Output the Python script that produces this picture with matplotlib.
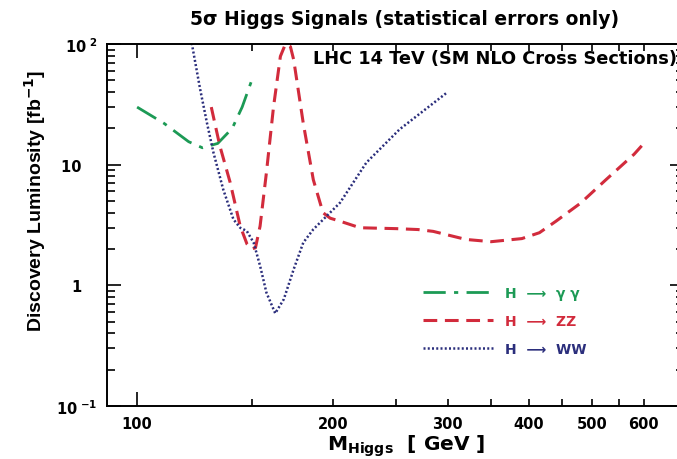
import matplotlib
matplotlib.use("Agg")
import matplotlib.pyplot as plt
import numpy as np

plt.rcParams['font.family'] = ['DejaVu Sans']
plt.rcParams['font.weight'] = 'bold'
plt.rcParams['mathtext.fontset'] = 'dejavusans'

# H -> gamma gamma
m_gg = [100, 110, 120, 126, 133, 140, 145, 150]
l_gg = [30, 22, 15.5, 13.8, 15, 20, 30, 50]

# H -> ZZ
m_zz = [130, 134, 139, 144, 147.5, 150, 152, 154.5, 158, 162, 166, 169, 172, 174, 180,
        186.5, 193, 198, 205, 220, 250, 270, 285, 320, 350, 390, 415, 440, 480, 525, 580, 605]
l_zz = [30, 14.3, 7.1, 3.1, 2.2, 2.0, 2.05, 3.1, 8.6, 30, 79, 100, 95, 74, 22,
        7.5, 4.0, 3.6, 3.4, 3.0, 2.95, 2.9, 2.8, 2.4, 2.3, 2.44, 2.73, 3.4, 4.8, 7.5, 12.2, 15.7]

# H -> WW
m_ww = [121, 125, 128, 131, 135.6, 140.6, 144, 147.4, 151, 154.5, 158, 163, 168, 174, 180,
        186.5, 195.5, 205, 225, 253, 300]
l_ww = [110, 42, 22.3, 12.6, 6.24, 3.52, 3.0, 2.82, 2.26, 1.45, 0.87, 0.586, 0.766, 1.36, 2.26,
        2.91, 3.75, 4.84, 10.4, 19.6, 40]

x_ticks = [100, 200, 300, 400, 500, 600]
x_minor = [150, 250, 350, 450, 550]
y_ticks = [0.1, 1, 10, 100]
# trailing spaces keep "1" and "10" lined up with the "10" of the powers
y_labels = [r'$\mathbf{10}^{\ \mathbf{-1}}$', '1   ', '10   ', r'$\mathbf{10}^{\ \mathbf{2}}$']

green = '#1c9a55'
red = '#d22b3c'
blue = '#2b2e7c'

fig = plt.figure(figsize=(6.77, 4.6), dpi=100)
ax = fig.add_axes([107 / 677, 53 / 460, 577 / 677, 362 / 460])

l1, = ax.plot(m_gg, l_gg, color=green, lw=2, dashes=(8, 3, 1.5, 3))
l2, = ax.plot(m_zz, l_zz, color=red, lw=2.2, dashes=(4.5, 2.5))
l3, = ax.plot(m_ww, l_ww, color=blue, lw=1.8, dashes=(0.8, 0.9))

ax.set_xscale('log')
ax.set_yscale('log')
ax.set_xlim(89.9, 692)
ax.set_ylim(0.1, 100)

ax.set_xticks(x_ticks)
ax.set_xticklabels([str(t) for t in x_ticks], fontweight='bold', fontsize=10.5)
ax.set_xticks(x_minor, minor=True)
ax.set_xticklabels([], minor=True)
ax.set_yticks(y_ticks)
ax.set_yticklabels(y_labels, fontsize=10.5, fontweight='bold')
ax.yaxis.set_minor_locator(matplotlib.ticker.LogLocator(base=10, subs=np.arange(2, 10)))
ax.yaxis.set_minor_formatter(matplotlib.ticker.NullFormatter())

ax.tick_params(axis='both', which='both', direction='in', top=True, right=True, width=1.2)
ax.tick_params(axis='x', which='both', length=5, pad=7)
ax.tick_params(axis='y', which='major', length=10, pad=7)
ax.tick_params(axis='y', which='minor', length=6)
# the 100 GeV tick is drawn longer
t0 = ax.xaxis.get_major_ticks()[0]
t0.tick1line.set_markersize(10)
t0.tick2line.set_markersize(10)

for s in ax.spines.values():
    s.set_linewidth(1.4)

fig.text(0.598, 0.958, '5\u03c3 Higgs Signals (statistical errors only)',
         ha='center', va='center', fontsize=13.5, fontweight='bold')
ax.text(0.357, 0.962, 'LHC 14 TeV (SM NLO Cross Sections)', transform=ax.transAxes,
        ha='left', va='center', fontsize=12.8, fontweight='bold')

fig.text(0.6, 0.021, r'M$_{\mathbf{Higgs}}$  [ GeV ]', ha='center', va='baseline',
         fontsize=14.5, fontweight='bold')
fig.text(0.052, 0.563, 'Discovery Luminosity [fb$^{\\mathbf{-1}}$]', rotation=90, ha='center',
         va='center', fontsize=14, fontweight='bold', family=['Liberation Sans', 'DejaVu Sans'])

leg = ax.legend([l1, l2, l3], ['H  \u27f6  \u03b3 \u03b3', 'H  \u27f6  ZZ', 'H  \u27f6  WW'],
                loc='upper left', bbox_to_anchor=(0.548, 0.331), frameon=False,
                borderpad=0, borderaxespad=0, handlelength=5.0, handletextpad=0.9,
                labelspacing=1.0, prop={'weight': 'bold', 'size': 10})
for txt, c in zip(leg.get_texts(), [green, red, blue]):
    txt.set_color(c)

fig.savefig('out.png', dpi=100)
